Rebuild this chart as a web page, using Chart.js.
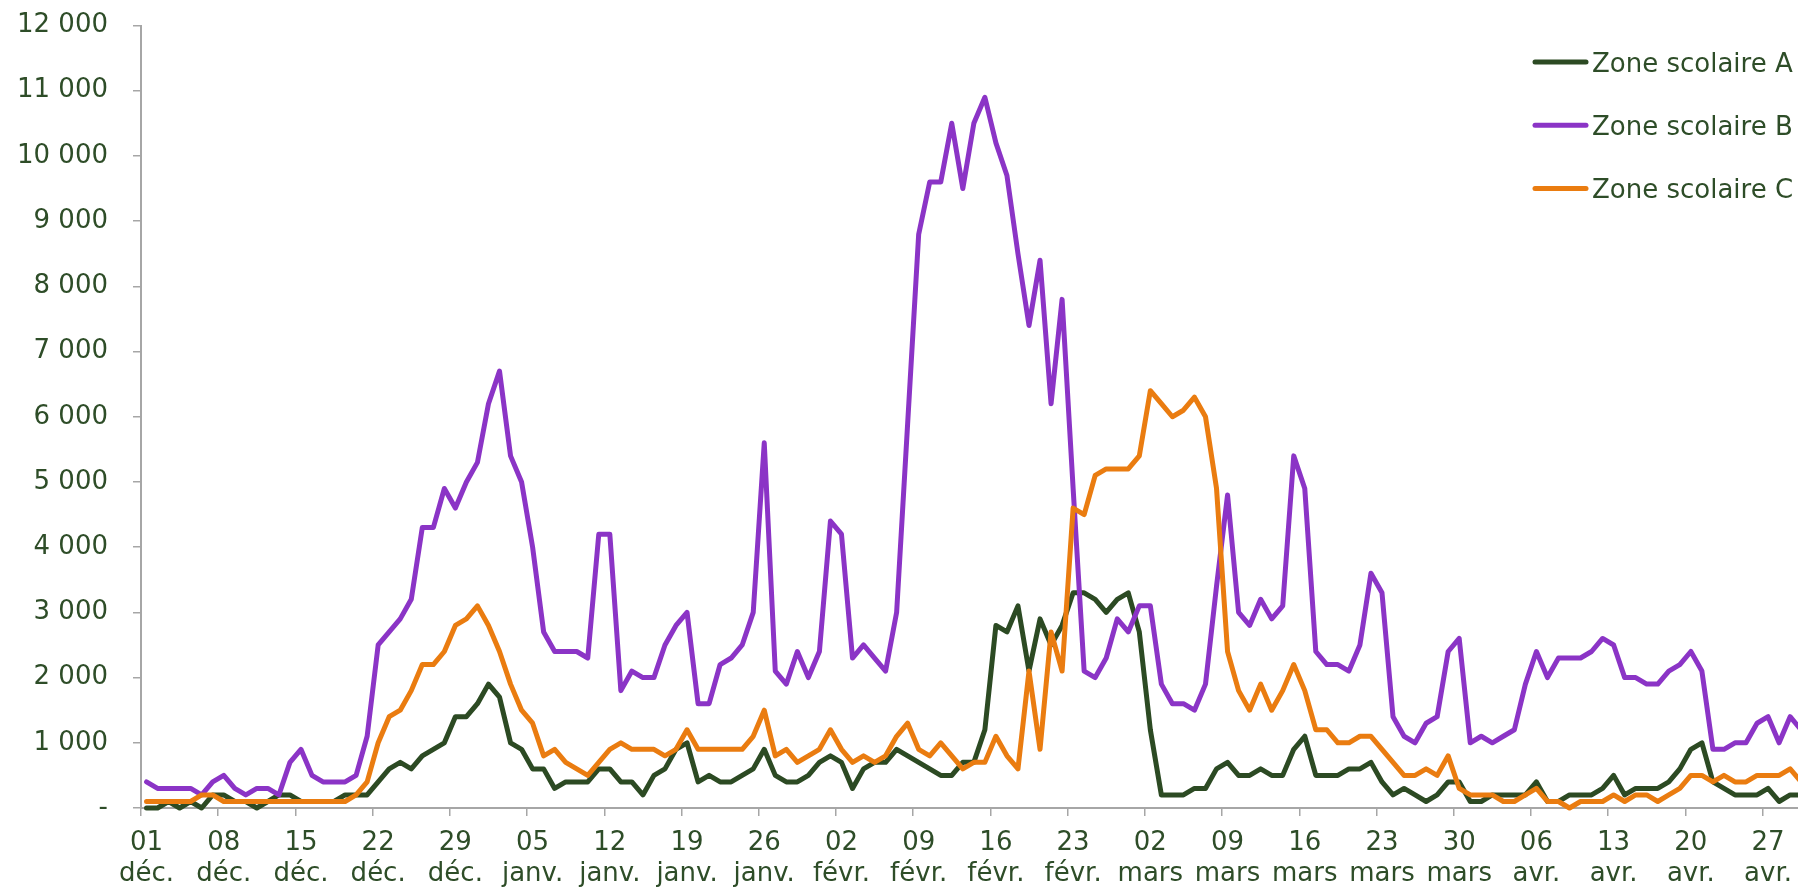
<!DOCTYPE html>
<html>
<head>
<meta charset="utf-8">
<script src="https://cdn.jsdelivr.net/npm/chart.js@4.4.1/dist/chart.umd.min.js"></script>
<style>
  html, body { margin: 0; padding: 0; background: #fff; overflow: hidden; }
  #wrap { position: relative; width: 1798px; height: 889px; }
</style>
</head>
<body>
<div id="wrap"><canvas id="chart"></canvas></div>
<script>
// one value per day, from 1 Dec to 30 Apr
const seriesLabels = ['Zone scolaire A', 'Zone scolaire B', 'Zone scolaire C']

const zoneA = [
  0, 0, 100, 0, 100, 0, 200, 200, 100, 100,
  0, 100, 200, 200, 100, 100, 100, 100, 200, 200,
  200, 400, 600, 700, 600, 800, 900, 1000, 1400, 1400,
  1600, 1900, 1700, 1000, 900, 600, 600, 300, 400, 400,
  400, 600, 600, 400, 400, 200, 500, 600, 900, 1000,
  400, 500, 400, 400, 500, 600, 900, 500, 400, 400,
  500, 700, 800, 700, 300, 600, 700, 700, 900, 800,
  700, 600, 500, 500, 700, 700, 1200, 2800, 2700, 3100,
  2100, 2900, 2500, 2800, 3300, 3300, 3200, 3000, 3200, 3300,
  2700, 1200, 200, 200, 200, 300, 300, 600, 700, 500,
  500, 600, 500, 500, 900, 1100, 500, 500, 500, 600,
  600, 700, 400, 200, 300, 200, 100, 200, 400, 400,
  100, 100, 200, 200, 200, 200, 400, 100, 100, 200,
  200, 200, 300, 500, 200, 300, 300, 300, 400, 600,
  900, 1000, 400, 300, 200, 200, 200, 300, 100, 200,
  200
]

const zoneB = [
  400, 300, 300, 300, 300, 200, 400, 500, 300, 200,
  300, 300, 200, 700, 900, 500, 400, 400, 400, 500,
  1100, 2500, 2700, 2900, 3200, 4300, 4300, 4900, 4600, 5000,
  5300, 6200, 6700, 5400, 5000, 4000, 2700, 2400, 2400, 2400,
  2300, 4200, 4200, 1800, 2100, 2000, 2000, 2500, 2800, 3000,
  1600, 1600, 2200, 2300, 2500, 3000, 5600, 2100, 1900, 2400,
  2000, 2400, 4400, 4200, 2300, 2500, 2300, 2100, 3000, 5900,
  8800, 9600, 9600, 10500, 9500, 10500, 10900, 10200, 9700, 8500,
  7400, 8400, 6200, 7800, 4900, 2100, 2000, 2300, 2900, 2700,
  3100, 3100, 1900, 1600, 1600, 1500, 1900, 3400, 4800, 3000,
  2800, 3200, 2900, 3100, 5400, 4900, 2400, 2200, 2200, 2100,
  2500, 3600, 3300, 1400, 1100, 1000, 1300, 1400, 2400, 2600,
  1000, 1100, 1000, 1100, 1200, 1900, 2400, 2000, 2300, 2300,
  2300, 2400, 2600, 2500, 2000, 2000, 1900, 1900, 2100, 2200,
  2400, 2100, 900, 900, 1000, 1000, 1300, 1400, 1000, 1400,
  1200
]

const zoneC = [
  100, 100, 100, 100, 100, 200, 200, 100, 100, 100,
  100, 100, 100, 100, 100, 100, 100, 100, 100, 200,
  400, 1000, 1400, 1500, 1800, 2200, 2200, 2400, 2800, 2900,
  3100, 2800, 2400, 1900, 1500, 1300, 800, 900, 700, 600,
  500, 700, 900, 1000, 900, 900, 900, 800, 900, 1200,
  900, 900, 900, 900, 900, 1100, 1500, 800, 900, 700,
  800, 900, 1200, 900, 700, 800, 700, 800, 1100, 1300,
  900, 800, 1000, 800, 600, 700, 700, 1100, 800, 600,
  2100, 900, 2700, 2100, 4600, 4500, 5100, 5200, 5200, 5200,
  5400, 6400, 6200, 6000, 6100, 6300, 6000, 4900, 2400, 1800,
  1500, 1900, 1500, 1800, 2200, 1800, 1200, 1200, 1000, 1000,
  1100, 1100, 900, 700, 500, 500, 600, 500, 800, 300,
  200, 200, 200, 100, 100, 200, 300, 100, 100, 0,
  100, 100, 100, 200, 100, 200, 200, 100, 200, 300,
  500, 500, 400, 500, 400, 400, 500, 500, 500, 600,
  400
]

// one label per week, first one on 1 Dec
const tickLabels = [
  ['01', 'déc.'], ['08', 'déc.'], ['15', 'déc.'], ['22', 'déc.'], ['29', 'déc.'],
  ['05', 'janv.'], ['12', 'janv.'], ['19', 'janv.'], ['26', 'janv.'],
  ['02', 'févr.'], ['09', 'févr.'], ['16', 'févr.'], ['23', 'févr.'],
  ['02', 'mars'], ['09', 'mars'], ['16', 'mars'], ['23', 'mars'], ['30', 'mars'],
  ['06', 'avr.'], ['13', 'avr.'], ['20', 'avr.'], ['27', 'avr.']
]

const colors = ['#2C4A23', '#8B34C6', '#EA7C10']
const textColor = '#2E4D28'
const axisColor = '#A6A6A6'
const FONT = '"DejaVu Sans", sans-serif'

const toPoints = arr => arr.map((y, x) => ({ x, y }))
const formatThousands = v => v === 0 ? '-' : String(v).replace(/\B(?=(\d{3})+(?!\d))/g, ' ')

// legend sits over the plot, top right, as in the original
const legendTopRight = {
  id: 'legendTopRight',
  afterDraw (chart) {
    const { ctx } = chart
    ctx.save()
    ctx.font = `26px ${FONT}`
    ctx.textAlign = 'left'
    ctx.textBaseline = 'alphabetic'
    chart.data.datasets.forEach((ds, i) => {
      const y = 62 + i * 63.3
      ctx.strokeStyle = ds.borderColor
      ctx.lineWidth = 5
      ctx.lineCap = 'round'
      ctx.beginPath()
      ctx.moveTo(1535, y)
      ctx.lineTo(1586, y)
      ctx.stroke()
      ctx.fillStyle = textColor
      ctx.fillText(ds.label, 1592, y + 9.5)
    })
    ctx.restore()
  }
}

const datasets = [zoneA, zoneB, zoneC].map((values, i) => ({
  label: seriesLabels[i],
  data: toPoints(values),
  borderColor: colors[i],
  backgroundColor: colors[i],
  order: 3 - i,
  clip: false
}))

new Chart(document.getElementById('chart').getContext('2d'), {
  type: 'line',
  data: { datasets },
  plugins: [legendTopRight],
  options: {
    responsive: true,
    maintainAspectRatio: false,
    animation: false,
    layout: { padding: { top: 25.5, right: 0, bottom: 0, left: 0 } },
    plugins: {
      legend: { display: false },
      tooltip: { enabled: false }
    },
    elements: {
      point: { radius: 0 },
      line: { tension: 0, borderWidth: 5, borderJoinStyle: 'round', borderCapStyle: 'round' }
    },
    scales: {
      x: {
        type: 'linear',
        min: -0.5,
        max: 149.65,
        afterBuildTicks: scale => {
          scale.ticks = tickLabels.map((_, i) => ({ value: i * 7 - 0.5 }))
        },
        afterFit: scale => { scale.height = 81 },
        grid: { drawOnChartArea: false, drawTicks: true, tickLength: 8, color: axisColor, lineWidth: 1.5 },
        border: { display: true, color: axisColor, width: 2 },
        ticks: {
          autoSkip: false,
          maxRotation: 0,
          minRotation: 0,
          labelOffset: 5.5,
          padding: 11.5,
          color: textColor,
          font: { family: FONT, size: 26, lineHeight: 1.19 },
          callback: (v, i) => tickLabels[i]
        }
      },
      y: {
        min: 0,
        max: 12000,
        // fixed width, and the label padding must not push the plot down
        afterFit: scale => {
          scale.width = 141
          scale.paddingTop = 0
          scale.paddingBottom = 0
        },
        grid: { drawOnChartArea: false, drawTicks: true, tickLength: 8, color: axisColor, lineWidth: 1.5 },
        border: { display: true, color: axisColor, width: 2 },
        ticks: {
          stepSize: 1000,
          padding: 25,
          color: textColor,
          font: { family: FONT, size: 26 },
          callback: v => formatThousands(v)
        }
      }
    }
  }
})
</script>
</body>
</html>
